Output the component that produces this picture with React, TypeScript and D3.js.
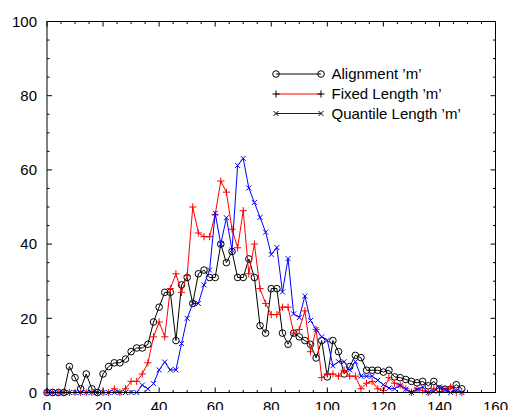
import React from "react";
import * as d3 from "d3";

const xValues = [0,2,4,6,8,10,12,14,16,18,20,22,24,26,28,30,32,34,36,38,40,42,44,46,48,50,52,54,56,58,60,62,64,66,68,70,72,74,76,78,80,82,84,86,88,90,92,94,96,98,100,102,104,106,108,110,112,114,116,118,120,122,124,126,128,130,132,134,136,138,140,142,144,146,148];

const alignment = [0,0,0,0,7,4,1,5,1,0,5,7,8,8,9,11,12,12,13,19,23,27,27,14,29,31,24,32,33,31,31,40,35,38,31,31,36,31,18,16,28,28,16,13,16,15,14,13,9.3,14,4.2,14,11,5,7,10,9.4,6,6,6,5.5,6,4.2,4,3.5,3,2.6,3,1.8,3,1,0.9,0.9,2.1,1];

const fixedLength = [0,0,0,0,0,0,0,0,0,0,0,0,1,0,1,3,3,5,8,15,19,15,28,32,27,31.5,50,43,42,42,48,57,54,44,39,49,32,40,28,24,21,21,23,23,16,17,22,11,17,4,5,5,4.4,6,4.4,4.4,1,2.5,3,1,0.5,4,2.5,2,1,0,1,0.5,0,1,0,1,1.5,0,0];

const quantileLength = [0,0,0,0,0,0,0,0,0,0,0,0,0,0,0,0,0,2,1,2.4,6.1,8.2,6.1,6.1,13.2,20,24,24,29,33,48.3,40,47.1,38.4,61.2,63.1,55.1,51.2,47.2,43.2,37.2,39.1,27.1,36.1,21.2,20.2,26,19.4,17,15,14.1,7.2,8.3,8.3,6.1,8.3,4.4,4.4,4.4,3.3,2.1,1.2,1,1.9,0.9,0,0.8,1.5,0,0.3,1.5,0.8,0,0.5,0];

const seriesNames = ["Alignment \u2019m\u2019", "Fixed Length \u2019m\u2019", "Quantile Length \u2019m\u2019"];
const seriesColors = ["#000000", "#ff0000", "#0000ff"];
const seriesMarkers = ["circle", "plus", "cross"];
const xTickValues = [0, 20, 40, 60, 80, 100, 120, 140, 160];
const yTickValues = [0, 20, 40, 60, 80, 100];

const W = 509, H = 410;
const L = 47, R = 495.5, T = 21.5, B = 392.5;
const FONT = "'Liberation Sans', Arial, Helvetica, sans-serif";

function Marker({ type, x, y, color }: { type: string; x: number; y: number; color: string }) {
  if (type === "circle") return <circle cx={x} cy={y} r={3.3} fill="none" stroke={color} strokeWidth={1} />;
  if (type === "plus") {
    const s = 3.6;
    return <path d={`M${x - s},${y}H${x + s}M${x},${y - s}V${y + s}`} stroke={color} strokeWidth={1} fill="none" />;
  }
  const s = 2.5;
  return <path d={`M${x - s},${y - s}L${x + s},${y + s}M${x - s},${y + s}L${x + s},${y - s}`} stroke={color} strokeWidth={1} fill="none" />;
}

export default function App() {
  const x = d3.scaleLinear().domain([0, 160]).range([L, R]);
  const y = d3.scaleLinear().domain([0, 100]).range([B, T]);
  const series = [alignment, fixedLength, quantileLength];
  const line = d3.line<number>().x((_, i) => x(xValues[i])).y((d) => y(d));

  const xMinor = d3.range(0, 161, 5);
  const yMinor = d3.range(0, 101, 5);
  const major = 5, minor = 2.5;

  const tickPaths: string[] = [];
  xMinor.forEach((v) => {
    const len = v % 20 === 0 ? major : minor;
    const px = x(v);
    tickPaths.push(`M${px},${B}V${B - len}`);
    tickPaths.push(`M${px},${T}V${T + len}`);
  });
  yMinor.forEach((v) => {
    const len = v % 20 === 0 ? major : minor;
    const py = y(v);
    tickPaths.push(`M${L},${py}H${L + len}`);
    tickPaths.push(`M${R},${py}H${R - len}`);
  });

  const legendY = [74, 94, 113.5];

  return (
    <svg width={W} height={H} style={{ position: "absolute", left: 0, top: 0, background: "#fff" }} fontFamily={FONT}>
      <rect x={0} y={0} width={W} height={H} fill="#fff" />
      {series.map((s, si) => (
        <g key={si}>
          <path d={line(s) || ""} fill="none" stroke={seriesColors[si]} strokeWidth={1} />
          {s.map((v, i) => (
            <Marker key={i} type={seriesMarkers[si]} x={x(xValues[i])} y={y(v)} color={seriesColors[si]} />
          ))}
        </g>
      ))}
      <path d={tickPaths.join("")} stroke="#000" strokeWidth={1} fill="none" />
      <rect x={L} y={T} width={R - L} height={B - T} fill="none" stroke="#000" strokeWidth={1} />
      {xTickValues.map((v) => (
        <text key={v} x={x(v)} y={411.5} fontSize={15} textAnchor="middle" fill="#000">{v}</text>
      ))}
      {yTickValues.map((v) => (
        <text key={v} x={37} y={y(v)} dy="0.35em" fontSize={15} textAnchor="end" fill="#000">{v}</text>
      ))}
      {seriesNames.map((name, i) => (
        <g key={name}>
          <line x1={276} x2={321} y1={legendY[i]} y2={legendY[i]} stroke={seriesColors[i]} strokeWidth={1} />
          <Marker type={seriesMarkers[i]} x={276} y={legendY[i]} color="#000" />
          <Marker type={seriesMarkers[i]} x={321} y={legendY[i]} color="#000" />
          <text x={331.5} y={legendY[i]} dy="0.35em" fontSize={15} fill="#000">{name}</text>
        </g>
      ))}
    </svg>
  );
}
